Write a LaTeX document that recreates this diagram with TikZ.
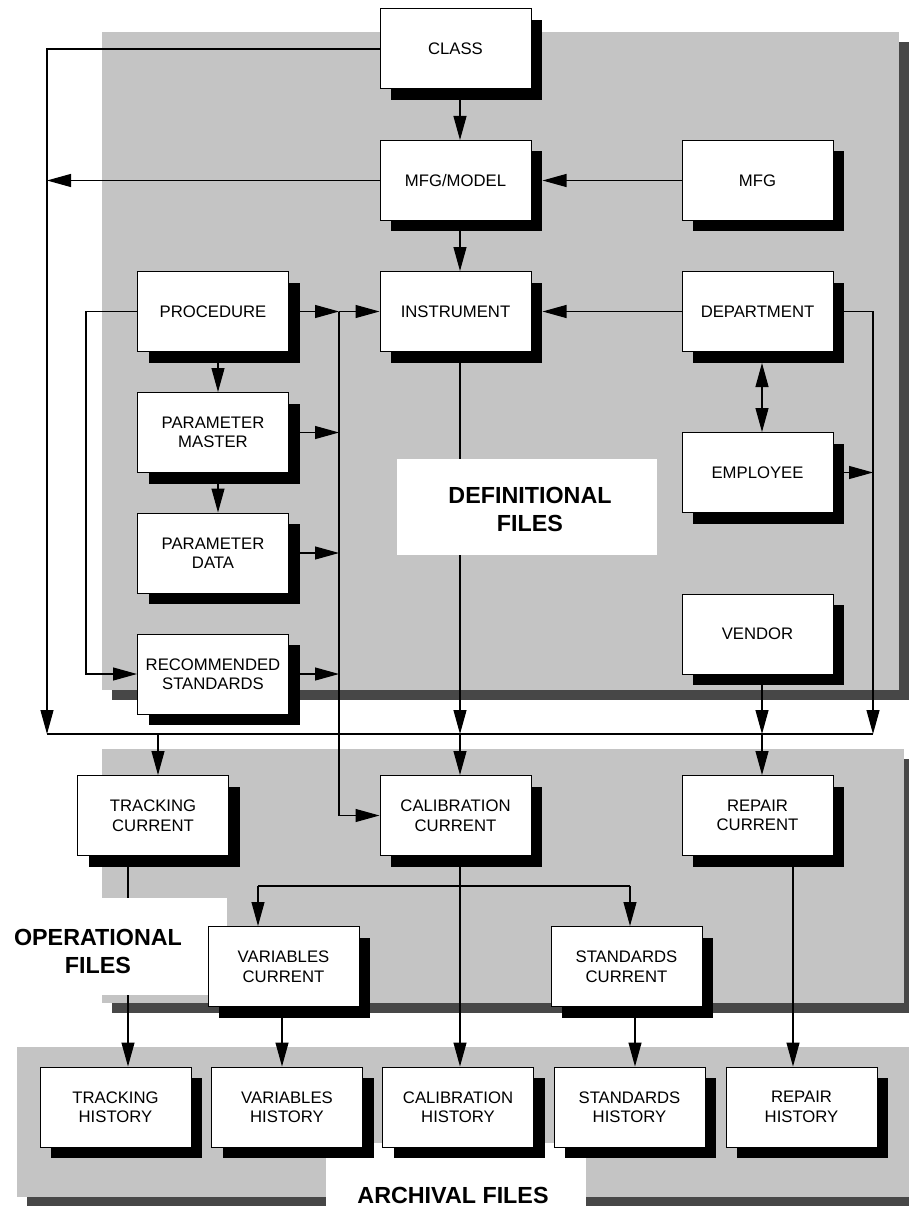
\documentclass[tikz,border=0pt]{standalone}
\usepackage{fontspec}
\setmainfont{Liberation Sans}
\usetikzlibrary{arrows.meta}
\usetikzlibrary{shadows}
\definecolor{stipple}{RGB}{196,196,196}
\definecolor{rimshade}{RGB}{71,71,71}
\pgfdeclarelayer{shade}
\pgfdeclarelayer{wires}
\pgfsetlayers{shade,wires,main}
\newcommand{\recnode}[4]{\node[filebox] (#1) at (#2,#3) {#4};}

\begin{document}
\begin{tikzpicture}[x=1pt,y=-1pt,
  filebox/.style={draw,fill=white,line width=1pt,minimum width=151pt,minimum height=80pt,
    inner sep=0pt,align=center,font=\fontsize{16.7}{19.5}\selectfont,
    drop shadow={shadow xshift=11pt,shadow yshift=-11pt,fill=black,opacity=1}},
  link/.style={line width=1.1pt},
  areaname/.style={font=\fontsize{23.3}{28}\selectfont\bfseries,align=center},
  >={Triangle[length=24pt,width=13pt]}]
        \useasboundingbox (0,0) rectangle (909,1206);

        %regions
        \begin{pgfonlayer}{shade}
        \fill[rimshade] (112,42) rectangle (909,700);
        \fill[stipple] (102,32) rectangle (899,690);
        \fill[rimshade] (112,759) rectangle (914,1013);
        \fill[stipple] (102,749) rectangle (904,1003);
        \fill[rimshade] (27,1057) rectangle (929,1216);
        \fill[stipple] (17,1047) rectangle (919,1197);
        \end{pgfonlayer}
        \fill[white] (397,459) rectangle (657,555);
        \fill[white] (0,898) rectangle (227,995);
        \fill[white] (326,1143) rectangle (586,1216);

        %nodes
        \recnode{class}{455.5}{49}{CLASS}
        \recnode{mfgmodel}{455.5}{180.5}{MFG/MODEL}
        \recnode{mfg}{757.5}{180.5}{MFG}
        \recnode{procedure}{213}{311.5}{PROCEDURE}
        \recnode{instrument}{455.5}{311.5}{INSTRUMENT}
        \recnode{department}{757.5}{311.5}{DEPARTMENT}
        \recnode{parmaster}{213}{432.5}{PARAMETER\\MASTER}
        \recnode{employee}{757.5}{472.5}{EMPLOYEE}
        \recnode{pardata}{213}{553}{PARAMETER\\DATA}
        \recnode{vendor}{757.5}{634}{VENDOR}
        \recnode{recstd}{213}{674}{RECOMMENDED\\STANDARDS}
        \recnode{trackcur}{153}{815.5}{TRACKING\\CURRENT}
        \recnode{calcur}{455.5}{815.5}{CALIBRATION\\CURRENT}
        \recnode{repcur}{757.5}{815.5}{REPAIR\\CURRENT}
        \recnode{varcur}{283.5}{966.5}{VARIABLES\\CURRENT}
        \recnode{stdcur}{626.5}{966.5}{STANDARDS\\CURRENT}
        \recnode{trackhist}{115.5}{1107}{TRACKING\\HISTORY}
        \recnode{varhist}{287}{1107}{VARIABLES\\HISTORY}
        \recnode{calhist}{458}{1107}{CALIBRATION\\HISTORY}
        \recnode{stdhist}{629.5}{1107}{STANDARDS\\HISTORY}
        \recnode{rephist}{801.5}{1107}{REPAIR\\HISTORY}

        \node[areaname] (deflabel) at (530,509) {DEFINITIONAL\\FILES};
        \node[areaname] (oplabel) at (98,951) {OPERATIONAL\\FILES};
        \node[areaname] (arclabel) at (453,1195) {ARCHIVAL FILES};

        %edges
        \coordinate (lbus) at (47,734);
        \coordinate (rbus) at (873,734);
        \coordinate (coltop) at (339,311.5);
        \coordinate (colbot) at (339,815.5);
        \coordinate (vsplit) at (258,886);
        \coordinate (ssplit) at (630,886);
        \begin{pgfonlayer}{wires}
        \draw[link] (lbus) -- (rbus);
        \draw[link,->] (class.west) -| (lbus);
        \draw[link,->] (mfgmodel.west) -- (mfgmodel.west -| lbus);
        \draw[link,->] ([xshift=4.5pt]class.south) -- ([xshift=4.5pt]mfgmodel.north);
        \draw[link,->] ([xshift=4.5pt]mfgmodel.south) -- ([xshift=4.5pt]instrument.north);
        \draw[link,->] (mfg.west) -- ([xshift=11pt]mfgmodel.east);
        \draw[link,->] (department.west) -- ([xshift=11pt]instrument.east);
        \draw[link,->] (department.east) -| (rbus);
        \draw[link,->] (employee.east) -- (employee.east -| rbus);
        \draw[link,<->] ([xshift=4.5pt,yshift=-11pt]department.south) -- ([xshift=4.5pt]employee.north);
        \draw[link,->] ([xshift=4.5pt]instrument.south) -- ([xshift=4.5pt]instrument.south |- lbus);
        \draw[link,->] ([xshift=4.5pt]instrument.south |- lbus) -- ([xshift=4.5pt]calcur.north);
        \draw[link,->] ([xshift=4.5pt]vendor.south) -- ([xshift=4.5pt]vendor.south |- lbus);
        \draw[link,->] ([xshift=4.5pt]vendor.south |- lbus) -- ([xshift=4.5pt]repcur.north);
        \draw[link,->] ([xshift=5pt]trackcur.north |- lbus) -- ([xshift=5pt]trackcur.north);

        \draw[link,->] (procedure.west) -- ++(-51,0) |- (recstd.west);
        \draw[link,->] (procedure.east) -- (coltop);
        \draw[link,->] (coltop) -- (instrument.west);
        \draw[link,->] (parmaster.east) -- (parmaster.east -| coltop);
        \draw[link,->] (pardata.east) -- (pardata.east -| coltop);
        \draw[link,->] (recstd.east) -- (recstd.east -| coltop);
        \draw[link,->] (coltop) -- (colbot) -- (calcur.west);
        \draw[link,->] ([xshift=5pt]procedure.south) -- ([xshift=5pt]parmaster.north);
        \draw[link,->] ([xshift=5pt]parmaster.south) -- ([xshift=5pt]pardata.north);

        \draw[link,->] ([xshift=4.5pt]calcur.south) -- ([xshift=4.5pt]calcur.south |- calhist.north);
        \draw[link] (vsplit) -- (ssplit);
        \draw[link,->] (vsplit) -- (vsplit |- varcur.north);
        \draw[link,->] (ssplit) -- (ssplit |- stdcur.north);
        \draw[link,->] ([xshift=-25pt]trackcur.south) -- ([xshift=-25pt]trackcur.south |- trackhist.north);
        \draw[link,->] ([xshift=-1.5pt]varcur.south) -- ([xshift=-1.5pt]varcur.south |- varhist.north);
        \draw[link,->] ([xshift=8.5pt]stdcur.south) -- ([xshift=8.5pt]stdcur.south |- stdhist.north);
        \draw[link,->] ([xshift=35.5pt]repcur.south) -- ([xshift=35.5pt]repcur.south |- rephist.north);
        \end{pgfonlayer}
\end{tikzpicture}
\end{document}
